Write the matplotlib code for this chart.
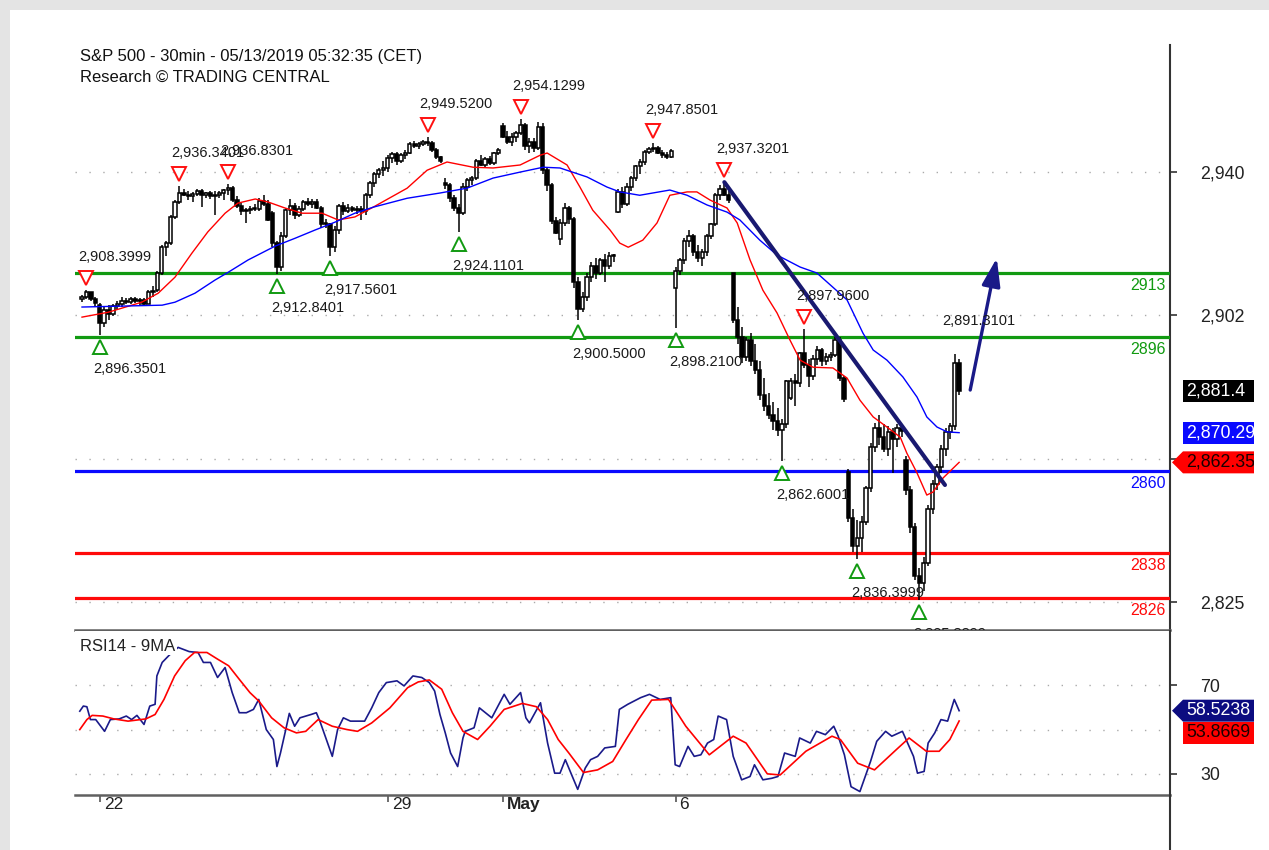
import matplotlib
matplotlib.use("Agg")
import matplotlib.pyplot as plt
import matplotlib.transforms as mtransforms
from matplotlib.patches import Rectangle, Polygon, FancyArrowPatch
from matplotlib.lines import Line2D
import numpy as np

plt.rcParams['font.family'] = ['Liberation Sans', 'DejaVu Sans']

# ---------------- data (30-min bars, Apr 18 - May 10 2019) ----------------
opens = [2906.0, 2906.5, 2907.8, 2906.0,
         2904.5, 2899.5, 2903.0, 2902.0, 2904.2, 2904.8, 2905.5, 2905.2, 2906.0, 2905.4, 2905.8, 2904.8, 2907.9,
         2908.5, 2913.0, 2920.0, 2921.0, 2928.0, 2932.0, 2934.5, 2934.0, 2933.5, 2934.2, 2935.0, 2933.8, 2934.4,
         2933.7, 2934.0, 2934.5, 2935.2, 2935.8, 2932.5, 2931.0, 2929.5, 2929.8, 2930.2, 2930.0, 2932.4, 2931.5,
         2929.0, 2921.0, 2914.5, 2923.0, 2929.8, 2931.0, 2928.5, 2930.0, 2932.0, 2931.5, 2932.0, 2930.5, 2926.0,
         2926.0, 2920.0, 2924.5, 2930.8, 2929.5, 2930.5, 2929.8, 2930.2, 2929.5, 2933.8, 2937.0, 2939.5, 2940.5,
         2941.0, 2943.8, 2944.8, 2943.0, 2944.5, 2945.2, 2947.6, 2947.0, 2947.5, 2948.0, 2947.8, 2946.0, 2944.0,
         2937.1, 2936.5, 2933.0, 2930.5, 2929.0, 2936.0, 2937.8, 2938.5, 2943.0, 2942.0, 2943.5, 2942.5, 2945.0,
         2952.3, 2949.5, 2948.0, 2949.5, 2950.5, 2952.5, 2947.0, 2948.0, 2946.5, 2952.0, 2940.5, 2936.5, 2927.0,
         2922.0, 2926.5, 2930.5, 2927.5, 2910.5, 2903.5, 2906.5, 2912.0, 2915.0, 2913.0, 2916.5, 2915.0, 2917.5,
         2929.2, 2934.8, 2931.5, 2936.0, 2938.5, 2941.5, 2942.8, 2945.5, 2946.2, 2946.5, 2945.2, 2944.5, 2944.0,
         2908.9, 2913.5, 2916.5, 2921.5, 2923.0, 2918.5, 2917.0, 2918.5, 2923.0, 2926.0, 2934.0, 2935.5, 2934.0,
         2913.0, 2900.5, 2896.0, 2890.5, 2895.0, 2889.5, 2887.0, 2880.5, 2877.5, 2875.0, 2873.5, 2871.0, 2872.5,
         2879.6, 2884.0, 2883.5, 2891.5, 2888.5, 2885.5, 2890.0, 2892.5, 2889.5, 2890.5, 2891.0, 2895.0, 2885.0,
         2859.8, 2847.5, 2840.0, 2842.0, 2846.5, 2855.5, 2866.5, 2871.5, 2869.0, 2866.0, 2870.5, 2868.5, 2871.5,
         2863.1, 2855.0, 2845.0, 2832.0, 2830.0, 2835.5, 2850.0, 2856.5, 2861.0, 2866.0, 2870.5, 2872.0, 2889.0]
highs = [2907.0, 2908.4, 2908.0, 2906.6,
         2905.0, 2904.0, 2904.5, 2904.8, 2905.6, 2906.5, 2906.4, 2906.6, 2906.7, 2906.3, 2906.2, 2908.5, 2909.5,
         2913.5, 2920.5, 2921.5, 2928.5, 2932.5, 2936.3, 2935.5, 2935.0, 2934.8, 2935.5, 2935.6, 2934.8, 2935.0,
         2935.0, 2935.0, 2935.6, 2936.8, 2936.3, 2933.5, 2931.8, 2930.4, 2931.0, 2931.5, 2933.0, 2934.0, 2932.5,
         2929.5, 2921.5, 2924.0, 2930.5, 2932.8, 2931.8, 2930.8, 2932.5, 2933.1, 2932.8, 2932.8, 2931.0, 2927.5,
         2926.5, 2925.5, 2931.5, 2932.0, 2931.5, 2931.0, 2930.8, 2931.0, 2934.5, 2937.5, 2940.0, 2941.0, 2943.0,
         2944.5, 2945.5, 2945.3, 2945.0, 2945.8, 2948.0, 2948.2, 2948.0, 2948.5, 2949.5, 2948.2, 2946.5, 2944.4,
         2938.5, 2937.0, 2934.0, 2931.5, 2937.0, 2938.5, 2939.0, 2943.5, 2944.5, 2944.0, 2944.2, 2945.5, 2946.5,
         2953.0, 2951.0, 2950.5, 2951.0, 2954.1, 2953.0, 2949.0, 2949.0, 2953.5, 2953.0, 2941.0, 2937.0, 2928.0,
         2927.5, 2931.7, 2931.0, 2928.0, 2912.0, 2908.0, 2913.0, 2916.0, 2917.0, 2917.0, 2918.0, 2918.5, 2918.2,
         2935.5, 2936.0, 2937.0, 2939.0, 2942.0, 2943.5, 2946.0, 2946.8, 2947.9, 2947.0, 2946.0, 2945.5, 2946.2,
         2914.5, 2917.0, 2922.5, 2924.5, 2923.5, 2920.5, 2919.5, 2923.5, 2926.5, 2934.5, 2936.5, 2937.3, 2935.0,
         2913.0, 2904.0, 2898.5, 2896.0, 2897.0, 2894.0, 2889.5, 2885.0, 2881.0, 2878.5, 2877.0, 2874.0, 2884.5,
         2885.0, 2886.0, 2892.0, 2898.0, 2890.0, 2891.0, 2893.5, 2893.0, 2891.5, 2892.0, 2896.0, 2896.0, 2885.5,
         2860.5, 2850.0, 2847.0, 2848.0, 2856.0, 2867.5, 2873.0, 2875.0, 2872.5, 2872.0, 2871.5, 2872.5, 2872.0,
         2864.0, 2856.0, 2846.0, 2834.0, 2837.0, 2851.0, 2857.5, 2862.0, 2867.0, 2871.5, 2873.0, 2891.3, 2890.0]
lows = [2905.2, 2906.0, 2905.5, 2903.8,
        2896.4, 2898.5, 2900.5, 2901.5, 2903.2, 2904.0, 2904.6, 2904.8, 2905.0, 2904.4, 2904.5, 2904.6, 2906.5,
        2908.0, 2912.5, 2917.5, 2920.5, 2927.5, 2931.5, 2933.5, 2932.5, 2932.0, 2933.5, 2930.6, 2933.0, 2932.8,
        2928.5, 2933.0, 2932.5, 2933.8, 2932.0, 2930.5, 2928.5, 2926.4, 2928.8, 2929.5, 2929.6, 2931.0, 2927.0,
        2920.0, 2912.8, 2913.5, 2922.5, 2928.5, 2927.5, 2928.0, 2929.5, 2930.8, 2930.5, 2930.0, 2925.0, 2925.0,
        2917.6, 2918.5, 2923.5, 2928.5, 2929.0, 2929.2, 2928.8, 2927.2, 2928.5, 2933.0, 2936.0, 2938.5, 2939.0,
        2940.0, 2942.5, 2942.0, 2942.5, 2943.5, 2944.8, 2946.5, 2946.2, 2947.0, 2947.0, 2945.5, 2943.5, 2942.5,
        2935.5, 2932.0, 2929.5, 2924.1, 2928.5, 2935.0, 2936.5, 2938.0, 2941.5, 2941.0, 2941.8, 2942.0, 2944.5,
        2949.0, 2947.5, 2947.0, 2948.0, 2950.0, 2946.0, 2945.0, 2945.5, 2946.0, 2939.5, 2935.0, 2926.0, 2923.4,
        2920.5, 2925.5, 2926.0, 2909.0, 2900.5, 2902.5, 2905.5, 2910.5, 2911.5, 2912.5, 2910.5, 2914.0, 2916.0,
        2929.0, 2930.5, 2931.0, 2935.0, 2937.5, 2939.5, 2942.0, 2944.8, 2945.5, 2944.8, 2943.8, 2943.5, 2943.8,
        2898.2, 2912.5, 2915.5, 2920.0, 2917.5, 2916.0, 2915.0, 2917.5, 2922.0, 2925.5, 2932.5, 2933.5, 2931.8,
        2899.5, 2894.0, 2889.0, 2889.5, 2888.0, 2886.0, 2879.0, 2876.0, 2874.0, 2871.0, 2869.5, 2862.6, 2871.5,
        2879.0, 2877.5, 2882.5, 2887.5, 2882.5, 2884.5, 2888.5, 2888.0, 2888.5, 2889.5, 2890.5, 2884.0, 2878.5,
        2846.5, 2838.5, 2836.4, 2838.5, 2845.5, 2854.5, 2865.0, 2867.0, 2865.0, 2864.0, 2859.5, 2866.5, 2869.0,
        2853.5, 2843.5, 2831.0, 2825.4, 2828.0, 2834.5, 2848.5, 2855.0, 2859.5, 2864.0, 2868.5, 2871.0, 2880.5]
closes = [2906.5, 2907.8, 2906.0, 2905.0,
          2899.5, 2903.0, 2902.0, 2904.2, 2904.8, 2905.5, 2905.2, 2906.0, 2905.4, 2905.8, 2904.8, 2907.9, 2908.0,
          2913.0, 2920.0, 2921.0, 2928.0, 2932.0, 2934.5, 2934.0, 2933.5, 2934.2, 2935.0, 2933.8, 2934.4, 2933.7,
          2934.0, 2934.5, 2935.2, 2935.8, 2932.5, 2931.0, 2929.5, 2929.8, 2930.2, 2930.0, 2932.4, 2931.5, 2927.3,
          2921.0, 2914.5, 2923.0, 2929.8, 2931.0, 2928.5, 2930.0, 2932.0, 2931.5, 2932.0, 2930.5, 2926.0, 2926.2,
          2920.0, 2924.5, 2930.8, 2929.5, 2930.5, 2929.8, 2930.2, 2929.5, 2933.8, 2937.0, 2939.5, 2940.5, 2941.0,
          2943.8, 2944.8, 2943.0, 2944.5, 2945.2, 2947.6, 2947.0, 2947.5, 2948.0, 2947.8, 2946.0, 2944.0, 2943.0,
          2936.5, 2933.0, 2930.5, 2929.0, 2936.0, 2937.8, 2938.5, 2943.0, 2942.0, 2943.5, 2942.5, 2945.0, 2945.8,
          2949.5, 2948.0, 2949.5, 2950.5, 2952.5, 2947.0, 2948.0, 2946.5, 2952.0, 2940.5, 2936.5, 2927.0, 2923.7,
          2926.5, 2930.5, 2927.5, 2910.5, 2903.5, 2906.5, 2912.0, 2915.0, 2913.0, 2916.5, 2915.0, 2917.5, 2917.5,
          2934.8, 2931.5, 2936.0, 2938.5, 2941.5, 2942.8, 2945.5, 2946.2, 2946.5, 2945.2, 2944.5, 2944.0, 2945.6,
          2913.5, 2916.5, 2921.5, 2923.0, 2918.5, 2917.0, 2918.5, 2923.0, 2926.0, 2934.0, 2935.5, 2934.0, 2932.5,
          2900.5, 2896.0, 2890.5, 2895.0, 2889.5, 2887.0, 2880.5, 2877.5, 2875.0, 2873.5, 2871.0, 2872.5, 2884.0,
          2884.0, 2883.5, 2891.5, 2888.5, 2885.5, 2890.0, 2892.5, 2889.5, 2890.5, 2891.0, 2895.0, 2885.0, 2879.4,
          2847.5, 2840.0, 2842.0, 2846.5, 2855.5, 2866.5, 2871.5, 2869.0, 2866.0, 2870.5, 2868.5, 2871.5, 2870.7,
          2855.0, 2845.0, 2832.0, 2830.0, 2835.5, 2850.0, 2856.5, 2861.0, 2866.0, 2870.5, 2872.0, 2889.0, 2881.4]

# moving averages (bar position, price)
ma_red_x = [0.0, 5.9, 13.5, 17.2, 21.0, 24.8, 28.4, 32.3, 35.2, 39.1, 42.0, 45.8, 49.7, 54.2, 57.8, 61.6, 65.7,
            73.4, 77.9, 82.4, 88.3, 92.8, 98.9, 103.4, 105.0, 109.5, 112.4, 115.3, 119.2, 121.4, 123.3, 126.6,
            129.8, 132.7, 136.6, 138.8, 141.8, 145.6, 147.9, 150.8, 153.7, 156.9, 159.8, 162.1, 165.0, 169.5,
            172.7, 175.6, 178.6, 181.7, 184.7, 186.2, 188.5, 190.7, 192.1, 194.4, 198.0]
ma_red = [2901.2, 2902.5, 2905.2, 2907.6, 2911.9, 2918.3, 2924.0, 2929.0, 2931.7, 2932.8, 2932.0, 2930.4, 2929.0,
          2929.0, 2927.2, 2928.0, 2930.6, 2935.7, 2940.5, 2942.7, 2941.3, 2941.1, 2941.9, 2944.5, 2945.1, 2941.9,
          2936.0, 2929.8, 2924.5, 2921.0, 2919.9, 2921.8, 2926.4, 2933.8, 2934.7, 2934.7, 2932.5, 2930.4, 2926.4,
          2916.5, 2908.4, 2902.3, 2895.1, 2889.7, 2887.8, 2887.6, 2884.9, 2879.0, 2874.5, 2871.8, 2869.1, 2864.8,
          2859.5, 2853.6, 2854.4, 2858.2, 2862.35]
ma_blue_x = [0.0, 18.1, 21.0, 25.5, 30.0, 33.0, 37.5, 43.6, 48.1, 52.6, 57.1, 61.6, 65.7, 73.4, 80.8, 86.9, 92.8,
             98.9, 104.1, 107.9, 114.0, 118.5, 121.4, 125.9, 132.7, 136.6, 141.1, 145.6, 148.5, 153.0, 156.9,
             162.1, 165.9, 169.5, 172.7, 176.3, 178.6, 181.7, 185.3, 188.5, 190.7, 193.0, 195.3, 198.0]
ma_blue = [2903.9, 2904.4, 2905.2, 2907.6, 2911.1, 2913.2, 2916.5, 2920.2, 2922.3, 2924.5, 2926.6, 2929.0, 2930.6,
           2933.0, 2934.4, 2935.7, 2938.4, 2940.0, 2941.3, 2941.1, 2938.7, 2936.0, 2934.7, 2933.8, 2935.2, 2933.8,
           2931.2, 2929.3, 2927.2, 2921.8, 2917.8, 2914.6, 2913.0, 2909.2, 2905.8, 2896.9, 2892.4, 2889.7, 2885.2,
           2879.8, 2874.5, 2871.8, 2870.5, 2870.29]

# RSI14 and its 9-period MA
rsi_x = [-0.5, 0.3, 1.1, 1.9, 3.1, 5.1, 6.4, 8.4, 10.0, 11.2, 12.4, 14.0, 15.3, 16.5, 16.9, 18.1, 19.7, 21.7,
         24.2, 26.2, 27.4, 29.0, 30.6, 32.3, 33.9, 35.5, 37.1, 38.7, 39.9, 41.6, 43.2, 44.0, 44.8, 46.0, 46.8,
         48.0, 49.2, 51.7, 52.9, 53.7, 54.9, 56.5, 57.7, 59.0, 60.6, 63.8, 65.4, 67.0, 68.7, 71.1, 72.7, 74.7,
         76.7, 78.4, 79.6, 80.8, 82.0, 83.2, 84.8, 86.0, 86.5, 88.5, 89.7, 92.5, 93.7, 95.3, 96.6, 99.0, 100.2,
         101.0, 103.5, 105.1, 106.7, 107.9, 109.1, 110.7, 111.9, 113.6, 114.8, 116.4, 118.0, 120.4, 121.3, 123.2,
         126.1, 128.1, 130.5, 132.9, 133.9, 134.9, 136.8, 138.2, 139.7, 141.2, 142.6, 143.6, 145.5, 147.0, 148.9,
         150.8, 151.8, 153.7, 155.7, 157.1, 158.6, 161.0, 162.0, 164.4, 165.8, 167.8, 169.7, 170.7, 172.1, 173.6,
         175.6, 178.0, 179.4, 181.4, 182.8, 185.2, 187.7, 188.6, 190.1, 191.0, 192.5, 193.9, 195.4, 196.9, 198.0]
rsi = [58.3, 60.6, 60.3, 54.5, 54.5, 49.2, 54.5, 54.8, 56.1, 54.5, 56.4, 52.3, 60.6, 61.4, 74.2, 80.3, 83.6, 87.1,
       85.2, 84.8, 80.3, 80.3, 73.5, 78.0, 66.7, 57.6, 57.6, 59.1, 63.6, 50.0, 45.5, 33.3, 39.4, 50.0, 57.3, 51.5,
       55.3, 56.8, 57.6, 53.8, 47.0, 37.9, 50.0, 55.3, 53.8, 53.8, 59.8, 66.7, 71.2, 72.0, 69.7, 74.2, 73.5, 71.2,
       67.4, 56.8, 48.5, 39.4, 33.3, 46.2, 49.2, 50.8, 59.8, 55.3, 59.8, 65.9, 61.4, 66.7, 55.3, 53.0, 62.1, 43.9,
       30.3, 30.3, 36.4, 28.8, 23.0, 32.6, 36.4, 37.9, 41.7, 42.4, 59.1, 61.4, 64.4, 65.9, 63.6, 64.4, 34.1, 33.3,
       42.4, 37.9, 38.6, 43.9, 45.5, 56.1, 54.5, 37.9, 27.3, 28.8, 34.1, 27.3, 28.0, 28.8, 39.4, 37.9, 46.2, 43.9,
       49.2, 47.7, 51.5, 47.0, 38.6, 24.2, 22.0, 35.6, 44.7, 49.2, 47.0, 49.2, 37.9, 30.3, 31.1, 43.9, 48.5, 54.5,
       53.8, 63.6, 58.52]
rsi_ma_x = [-0.5, 1.1, 2.3, 4.7, 7.2, 10.4, 14.4, 16.5, 18.5, 20.9, 23.3, 25.4, 28.2, 30.6, 33.1, 35.5, 37.9, 39.9,
            42.8, 45.6, 48.4, 50.5, 53.3, 56.5, 59.8, 62.2, 65.4, 69.5, 73.5, 75.9, 78.4, 81.2, 83.6, 86.0, 89.3,
            92.1, 95.3, 99.4, 102.6, 105.1, 107.5, 109.9, 113.2, 116.4, 119.8, 122.8, 125.6, 128.6, 132.4, 136.3,
            141.6, 147.0, 149.9, 154.7, 157.6, 163.4, 169.3, 171.2, 175.1, 178.9, 183.8, 186.7, 190.6, 193.5, 195.9,
            198.0]
rsi_ma = [50.0, 54.5, 56.4, 56.1, 54.8, 53.8, 54.8, 56.8, 63.6, 74.2, 81.1, 84.8, 84.8, 81.8, 78.8, 72.7, 66.7,
          62.9, 55.3, 50.8, 48.5, 49.2, 54.5, 51.5, 50.0, 49.2, 53.0, 59.8, 68.9, 71.5, 72.4, 68.2, 57.6, 49.2, 45.5,
          51.5, 59.1, 61.8, 60.3, 54.5, 45.5, 39.4, 30.6, 31.8, 35.6, 45.5, 54.5, 63.3, 63.6, 51.5, 38.6, 47.0, 43.9,
          30.0, 29.5, 40.2, 47.0, 45.5, 34.8, 31.8, 40.9, 46.2, 40.2, 40.2, 45.5, 53.87]

# swing highs / lows
peak_bars = [1, 22, 33, 78, 99, 129, 145, 163]
peak_labels = ["2,908.3999", "2,936.3401", "2,936.8301", "2,949.5200", "2,954.1299",
               "2,947.8501", "2,937.3201", "2,897.9600"]
extra_peak_bar = 197
extra_peak_label = "2,891.3101"
trough_bars = [4, 44, 56, 85, 112, 134, 158, 175, 189]
trough_labels = ["2,896.3501", "2,912.8401", "2,917.5601", "2,924.1101", "2,900.5000",
                 "2,898.2100", "2,862.6001", "2,836.3999", "2,825.3899"]

# support / resistance levels
level_values = [2913, 2896, 2860, 2838, 2826]
level_colors = ['#119a11', '#119a11', '#0a0aff', '#ff0a0a', '#ff0a0a']

# trend line and target arrow
trend_x = [145.0, 194.8]
trend_y = [2937.3, 2856.3]
arrow_from = (200.5, 2881.7)
arrow_to = (206.5, 2917.0)

# axis ticks
price_ticks = [2940, 2901.667, 2863.333, 2825]
price_tick_labels = ["2,940", "2,902", "", "2,825"]
rsi_ticks = [70, 30]
rsi_grid = [70, 50, 30]
date_ticks = [4, 69, 95, 134]
date_labels = ["22", "29", "May", "6"]

last_close_label = "2,881.4"
blue_ma_label = "2,870.29"
red_ma_label = "2,862.35"
rsi_label = "58.5238"
rsi_ma_label = "53.8669"

# ---------------- figure ----------------
W, H = 1269, 850
fig = plt.figure(figsize=(W / 100, H / 100), dpi=100)
fig.patch.set_facecolor('#e4e4e4')
fig.add_artist(Rectangle((10 / W, 0), 1 - 10 / W, 1 - 10 / H, transform=fig.transFigure,
                         facecolor='white', edgecolor='none', zorder=-5))

L, R = 75, 1170
ax = fig.add_axes([L / W, (H - 630) / H, (R - L) / W, (630 - 45) / H])
ax2 = fig.add_axes([L / W, (H - 795) / H, (R - L) / W, (795 - 631) / H])

XL = (-1.58, 245.6)
for a in (ax, ax2):
    a.set_xlim(*XL)
    a.set_facecolor('white')
    a.spines['top'].set_visible(False)
    a.spines['left'].set_visible(False)
    a.spines['right'].set_color('#333333')
    a.spines['right'].set_linewidth(1.5)
    a.spines['bottom'].set_color('#606060')
    a.spines['bottom'].set_linewidth(1.8)
    a.yaxis.tick_right()
    a.tick_params(axis='y', direction='out', length=5, width=1.2, colors='#333333',
                  labelsize=12.8, pad=17, labelcolor='#222222')
ax.set_ylim(2817.5, 2974.0)
ax2.set_ylim(20.45, 94.5)

ax.set_yticks(price_ticks)
ax.set_yticklabels(price_tick_labels)
ax.tick_params(axis='x', bottom=False, labelbottom=False)
ax2.set_yticks(rsi_ticks)
ax2.set_yticklabels([str(v) for v in rsi_ticks])
ax2.set_xticks(date_ticks)
ax2.tick_params(axis='x', direction='out', length=5, width=1.2, colors='#555555', labelbottom=False)

grid_style = dict(color='#aaaaaa', lw=1.0, linestyle=(0, (1, 9)), zorder=1)
for v in price_ticks:
    ax.axhline(v, **grid_style)
for v in rsi_grid:
    ax2.axhline(v, **grid_style)

# date labels to the right of ticks
btrans = mtransforms.blended_transform_factory(ax2.transData, ax2.transAxes)
dtrans = mtransforms.offset_copy(btrans, fig=fig, x=4, y=-2, units='dots')
for t, lab in zip(date_ticks, date_labels):
    ax2.text(t, 0, lab, transform=dtrans, ha='left', va='top', fontsize=12.5,
             fontweight='bold' if lab == 'May' else 'normal', color='#222222', clip_on=False)

# level lines
ltrans = mtransforms.offset_copy(mtransforms.blended_transform_factory(ax.transAxes, ax.transData),
                                 fig=fig, x=-4, y=-5, units='dots')
for v, c in zip(level_values, level_colors):
    ax.axhline(v, color=c, lw=2.3, zorder=3)
    ax.text(1.0, v, str(v), transform=ltrans, ha='right', va='top', fontsize=11.5, color=c, zorder=3)

# candles
idx = np.arange(len(closes))
o = np.array(opens); h = np.array(highs); l = np.array(lows); c = np.array(closes)
ax.vlines(idx, l, h, color='black', lw=1.1, zorder=4)
up = c >= o
body_lo = np.minimum(o, c)
body_h = np.maximum(np.abs(c - o), 0.3)
ax.bar(idx[up], body_h[up], bottom=body_lo[up], width=0.75, facecolor='white',
       edgecolor='black', linewidth=1.1, zorder=5)
ax.bar(idx[~up], body_h[~up], bottom=body_lo[~up], width=0.75, facecolor='black',
       edgecolor='black', linewidth=1.1, zorder=5)

# moving averages
ax.plot(ma_red_x, ma_red, color='#ff0000', lw=1.0, zorder=6)
ax.plot(ma_blue_x, ma_blue, color='#0000ff', lw=1.0, zorder=6)

# trend line + arrow
ax.plot(trend_x, trend_y, color='#191970', lw=3.0, zorder=8, solid_capstyle='round')
arr = FancyArrowPatch(arrow_from, arrow_to, arrowstyle='-|>,head_length=1.0,head_width=0.33',
                      mutation_scale=17, color='#1a1a88', lw=2.4, shrinkA=0, shrinkB=0, zorder=8)
ax.add_patch(arr)

# swing markers
txt_col = '#1a1a1a'
off_up = mtransforms.offset_copy(ax.transData, fig=fig, x=0, y=12, units='dots')
off_dn = mtransforms.offset_copy(ax.transData, fig=fig, x=0, y=-12, units='dots')
ax.plot(peak_bars, [highs[i] for i in peak_bars], linestyle='none', marker='v', ms=10,
        mfc='white', mec='#ff1010', mew=1.4, transform=off_up, zorder=7)
ax.plot(trough_bars, [lows[i] for i in trough_bars], linestyle='none', marker='^', ms=10,
        mfc='white', mec='#119a11', mew=1.4, transform=off_dn, zorder=7)
for i, lab in zip(peak_bars, peak_labels):
    ax.annotate(lab, xy=(i, highs[i]), xytext=(-8, 33), textcoords='offset pixels',
                ha='left', va='center', fontsize=10.5, color=txt_col, zorder=9)
ax.annotate(extra_peak_label, xy=(extra_peak_bar, highs[extra_peak_bar]), xytext=(-12, 33),
            textcoords='offset pixels', ha='left', va='center', fontsize=10.5, color=txt_col, zorder=9)
for i, lab in zip(trough_bars, trough_labels):
    ax.annotate(lab, xy=(i, lows[i]), xytext=(-6, -34), textcoords='offset pixels',
                ha='left', va='center', fontsize=10.5, color=txt_col, zorder=9, clip_on=True)

# RSI panel
ax2.plot(rsi_x, rsi, color='#1a1a8a', lw=1.2, zorder=4)
ax2.plot(rsi_ma_x, rsi_ma, color='#ff0000', lw=1.2, zorder=4)
ax2.text(5 / (R - L), 0.905, "RSI14 - 9MA", transform=ax2.transAxes, ha='left', va='center',
         fontsize=12, color='#222222', zorder=10,
         bbox=dict(facecolor='white', edgecolor='none', pad=1.0))

# titles
fig.text(80 / W, 1 - 57 / H, "S&P 500 - 30min - 05/13/2019 05:32:35 (CET)", ha='left', va='center',
         fontsize=12, color='#111111')
fig.text(80 / W, 1 - 77 / H, "Research \u00a9 TRADING CENTRAL", ha='left', va='center',
         fontsize=12, color='#111111')

# right axis extension below RSI panel
fig.add_artist(Line2D([R, R], [0, H - 795], transform=mtransforms.IdentityTransform(),
                      color='#333333', lw=1.5))

# value boxes on right axis
clipbox = mtransforms.Bbox.from_extents(0, 0, 1254, H)


def value_box(axis, value, text, fc, tc, arrow=False, shift_px=0.0):
    yc = axis.transData.transform((0, value))[1] + shift_px
    x0, x1, hh, tip = 1183, 1270, 11, 1172
    if arrow:
        verts = [(tip, yc), (x0, yc + hh), (x1, yc + hh), (x1, yc - hh), (x0, yc - hh)]
    else:
        verts = [(x0, yc - hh), (x0, yc + hh), (x1, yc + hh), (x1, yc - hh)]
    p = Polygon(verts, closed=True, facecolor=fc, edgecolor='none',
                transform=mtransforms.IdentityTransform(), zorder=20)
    p.set_clip_box(clipbox)
    p.set_clip_on(True)
    fig.add_artist(p)
    t = fig.text(1186 / W, yc / H, text, ha='left', va='center', fontsize=12.8, color=tc, zorder=21)
    t.set_clip_box(clipbox)
    t.set_clip_on(True)
    return yc


value_box(ax, closes[-1], last_close_label, '#000000', 'white')
value_box(ax, ma_blue[-1], blue_ma_label, '#0a0aff', 'white')
value_box(ax, ma_red[-1], red_ma_label, '#ff0000', '#1a0000', arrow=True)
y_rsi = value_box(ax2, rsi[-1], rsi_label, '#0c0c80', 'white', arrow=True)
y_ma_own = ax2.transData.transform((0, rsi_ma[-1]))[1]
value_box(ax2, rsi_ma[-1], rsi_ma_label, '#ff0000', '#1a0000',
          shift_px=min(0.0, (y_rsi - 22) - y_ma_own))

fig.savefig('out.png', dpi=100)
